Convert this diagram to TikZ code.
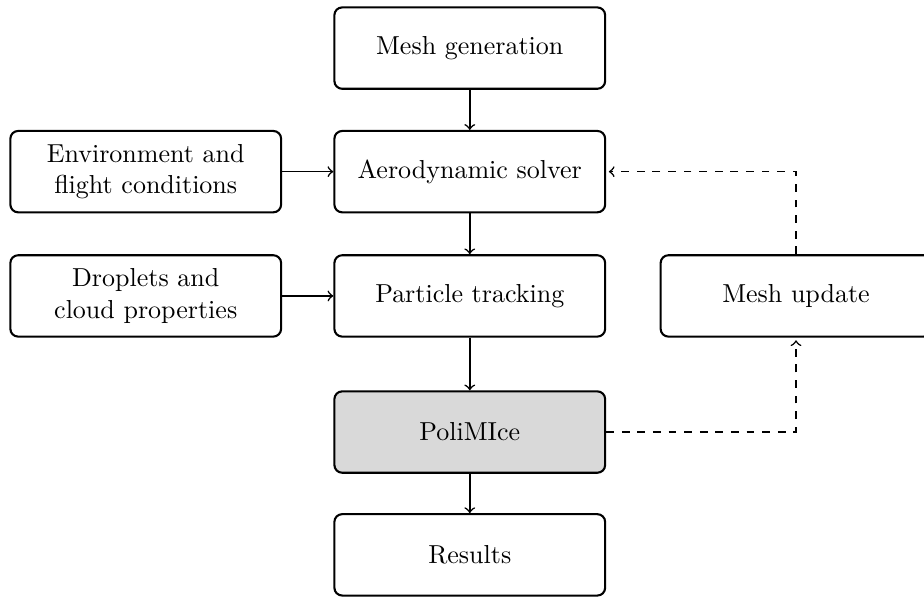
\documentclass[tikz,border=0pt]{standalone}
\usepackage{amsmath,amssymb}
\usepackage{tikz}
\usetikzlibrary{arrows}

\tikzset{
  block/.style={draw,thick,rounded corners=3pt,minimum width=3.66cm,
    minimum height=1.1cm,align=center,fill=white},
  solver/.style={block,fill=gray!30},
  link/.style={->,semithick},
  feedback/.style={->,semithick,dashed,shorten >=1pt}
}

\begin{document}
\begin{tikzpicture}
       \useasboundingbox (0,0) rectangle (12.49,-8.07);
       % main chain
       \node[block]  (mesh)    at (6.35,-0.65) {Mesh generation};
       \node[block]  (aero)    at (6.35,-2.32) {Aerodynamic solver};
       \node[block]  (track)   at (6.35,-4.00) {Particle tracking};
       \node[solver] (polimi)  at (6.35,-5.84) {PoliMIce};
       \node[block]  (results) at (6.35,-7.50) {Results};
       % inputs
       \node[block]  (env)     at (1.97,-2.32) {Environment and\\flight conditions};
       \node[block]  (drop)    at (1.97,-4.00) {Droplets and\\cloud properties};
       % loop
       \node[block]  (update)  at (10.76,-4.00) {Mesh update};

       \draw[link] (mesh) -- (aero);
       \draw[link] (aero) -- (track);
       \draw[link] (track) -- (polimi);
       \draw[link] (polimi) -- (results);
       \draw[link] (env) -- (aero);
       \draw[link] (drop) -- (track);
       \draw[feedback] (polimi.east) -| (update.south);
       \draw[feedback] (update.north) |- (aero.east);
      \end{tikzpicture}
\end{document}
